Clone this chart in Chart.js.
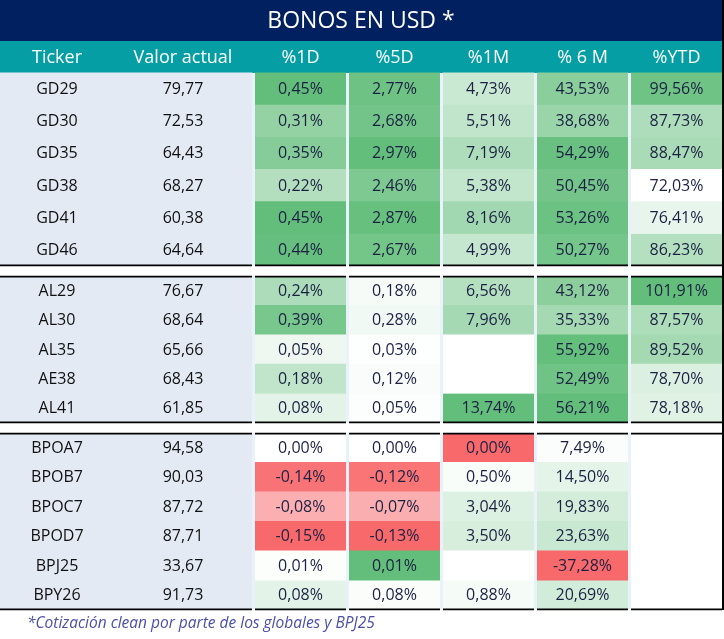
<!DOCTYPE html>
<html><head><meta charset="utf-8">
<script src="https://cdn.jsdelivr.net/npm/chart.js@4.4.1/dist/chart.umd.min.js"></script>
<style>html,body{margin:0;padding:0;background:#fff}#wrap{width:724px;height:639px;position:relative}</style>
</head><body><div id="wrap"><canvas id="c"></canvas></div>
<script>
// ---------------- data ----------------
const title = 'BONOS EN USD *';
const footnote = '*Cotización clean por parte de los globales y BPJ25';
const headers = ['Ticker', 'Valor actual', '%1D', '%5D', '%1M', '% 6 M', '%YTD'];
const tickers = ['GD29','GD30','GD35','GD38','GD41','GD46','AL29','AL30','AL35','AE38','AL41','BPOA7','BPOB7','BPOC7','BPOD7','BPJ25','BPY26'];
const sectionSizes = [6, 5, 6];
const valorActual = [79.77,72.53,64.43,68.27,60.38,64.64,76.67,68.64,65.66,68.43,61.85,94.58,90.03,87.72,87.71,33.67,91.73];
const pct1D  = [0.45,0.31,0.35,0.22,0.45,0.44,0.24,0.39,0.05,0.18,0.08,0.00,-0.14,-0.08,-0.15,0.01,0.08];
const pct5D  = [2.77,2.68,2.97,2.46,2.87,2.67,0.18,0.28,0.03,0.12,0.05,0.00,-0.12,-0.07,-0.13,0.01,0.08];
const pct1M  = [4.73,5.51,7.19,5.38,8.16,4.99,6.56,7.96,null,null,13.74,0.00,0.50,3.04,3.50,null,0.88];
const pct6M  = [43.53,38.68,54.29,50.45,53.26,50.27,43.12,35.33,55.92,52.49,56.21,7.49,14.50,19.83,23.63,-37.28,20.69];
const pctYTD = [99.56,87.73,88.47,72.03,76.41,86.23,101.91,87.57,89.52,78.70,78.18,null,null,null,null,null,null];
const pctColumns = [pct1D, pct5D, pct1M, pct6M, pctYTD];

// ---------------- styles / layout ----------------
const W = 724, H = 639;
const TITLE_H = 41, HEADER_H = 32, SEP_H = 10, LINE_W = 2;
const ROW_H = [32.17, 29.4, 29.5];
const TICKER_W = 114, VALOR_W = 138, GAP = 3, CELL_W = 91, RIGHT_LINE = 2;
const NAVY = '#002060', TEAL = '#049ea4', LEFT_BG = '#e4eaf4', GAP_BG = '#e9f1fa';
const GREEN = [99,190,123], RED = [248,105,107], WHITE = [255,255,255];
const colorScales = [{type:'div', mid:0},{type:'div', mid:0},{type:'div', mid:0},{type:'div', mid:6},{type:'seq'}];
const colorOverrides = [{row:'BPJ25', col:'%5D', color:GREEN}];
const FONT = '"Open Sans", "DejaVu Sans", sans-serif';

const rgb = c => `rgb(${Math.round(c[0])},${Math.round(c[1])},${Math.round(c[2])})`;
const mix = (a, b, t) => { t = Math.max(0, Math.min(1, t)); return rgb(a.map((v, i) => v + (b[i] - v) * t)); };
function cellColor(k, i) {
  const ov = colorOverrides.find(o => o.row === tickers[i] && o.col === headers[k + 2]);
  if (ov) return rgb(ov.color);
  const vals = pctColumns[k], v = vals[i];
  if (v == null) return '#ffffff';
  const nums = vals.filter(x => x != null);
  const mn = Math.min(...nums), mx = Math.max(...nums);
  const sc = colorScales[k];
  if (sc.type === 'seq') return mix(WHITE, GREEN, (v - mn) / (mx - mn));
  if (v <= mn) return rgb(RED);
  if (v >= sc.mid) return mix(WHITE, GREEN, (v - sc.mid) / (mx - sc.mid));
  return mix(WHITE, RED, (sc.mid - v) / (sc.mid - mn));
}

// rows geometry (in scale units)
const rowCenter = [], sections = [];
let cursor = TITLE_H + HEADER_H, idx = 0;
sectionSizes.forEach((n, s) => {
  const start = cursor, rows = [];
  for (let j = 0; j < n; j++) { rowCenter[idx] = cursor + ROW_H[s] / 2; rows.push(idx); cursor += ROW_H[s]; idx++; }
  sections.push({start, end: cursor, rows});
  cursor += SEP_H;
});
const TABLE_BOTTOM = sections[sections.length - 1].end;
const LEFT_W = TICKER_W + VALOR_W;
const colRange = k => { const x0 = LEFT_W + GAP + k * (CELL_W + GAP); return [x0, x0 + CELL_W]; };
const TABLE_RIGHT = colRange(4)[1];
const headerCenters = [TICKER_W / 2, TICKER_W + VALOR_W / 2, ...[0,1,2,3,4].map(k => (colRange(k)[0] + colRange(k)[1]) / 2)];

const fmt = v => v.toFixed(2).replace('.', ',');

// ---------------- datasets ----------------
const datasets = [];
sections.forEach((sec, s) => {
  for (let c = 0; c < 6; c++) {
    const rows = sec.rows, last = rows.length - 1;
    datasets.push({
      data: rows.map(i => ({x: c === 0 ? [0, LEFT_W] : colRange(c - 1), y: rowCenter[i]})),
      backgroundColor: rows.map(i => c === 0 ? LEFT_BG : cellColor(c - 1, i)),
      borderColor: '#000000',
      borderWidth: ctx => ({top: (s > 0 && ctx.dataIndex === 0) ? LINE_W : 0, bottom: ctx.dataIndex === last ? LINE_W : 0, left: 0, right: 0}),
      borderSkipped: false,
      inflateAmount: 0.4,
      barThickness: 'flex',
      categoryPercentage: 1,
      barPercentage: 1,
      stack: 'table'
    });
  }
});

const tablePlugin = {
  id: 'tableDecor',
  beforeDatasetsDraw(chart) {
    const {ctx, scales: {x, y}} = chart;
    const rect = (x0, y0, x1, y1, col) => {
      const px0 = x.getPixelForValue(x0), px1 = x.getPixelForValue(x1);
      const py0 = y.getPixelForValue(y0), py1 = y.getPixelForValue(y1);
      ctx.fillStyle = col; ctx.fillRect(px0, py0, px1 - px0, py1 - py0);
    };
    ctx.save();
    rect(0, 0, TABLE_RIGHT, TITLE_H, NAVY);
    rect(0, TITLE_H, TABLE_RIGHT, TITLE_H + HEADER_H, TEAL);
    sections.forEach(sec => { rect(0, sec.start, LEFT_W, sec.end, LEFT_BG); rect(LEFT_W, sec.start, TABLE_RIGHT, sec.end, GAP_BG); });
    ctx.restore();
  },
  afterDatasetsDraw(chart) {
    const {ctx, scales: {x, y}} = chart;
    ctx.save();
    // re-open the thin column gaps that the slight bar inflation covered
    sections.forEach(sec => {
      const py0 = y.getPixelForValue(sec.start), py1 = y.getPixelForValue(sec.end);
      [LEFT_W, ...[1,2,3,4].map(k => colRange(k)[0] - GAP)].forEach(gx => {
        const a = x.getPixelForValue(gx), b = x.getPixelForValue(gx + GAP);
        ctx.fillStyle = GAP_BG; ctx.fillRect(a, py0, b - a, py1 - py0);
      });
    });
    ctx.fillStyle = '#000';
    const rx0 = x.getPixelForValue(TABLE_RIGHT), rx1 = x.getPixelForValue(TABLE_RIGHT + RIGHT_LINE);
    ctx.fillRect(rx0, y.getPixelForValue(0), rx1 - rx0, y.getPixelForValue(TABLE_BOTTOM) - y.getPixelForValue(0));
    ctx.textAlign = 'center'; ctx.textBaseline = 'middle';
    // title
    ctx.fillStyle = '#ffffff';
    ctx.font = `23px ${FONT}`;
    ctx.fillText(title, x.getPixelForValue(TABLE_RIGHT / 2), y.getPixelForValue(TITLE_H / 2 + 1));
    // headers
    ctx.font = `18px ${FONT}`;
    headers.forEach((h, k) => ctx.fillText(h, x.getPixelForValue(headerCenters[k]), y.getPixelForValue(TITLE_H + HEADER_H / 2 + 0.5)));
    // body
    ctx.font = `16px ${FONT}`;
    tickers.forEach((t, i) => {
      const py = y.getPixelForValue(rowCenter[i]) + 0.5;
      ctx.fillStyle = '#111111';
      ctx.fillText(t, x.getPixelForValue(headerCenters[0]), py);
      ctx.fillText(fmt(valorActual[i]), x.getPixelForValue(headerCenters[1]), py);
      ctx.fillStyle = '#1c2143';
      pctColumns.forEach((col, k) => { if (col[i] != null) ctx.fillText(fmt(col[i]) + '%', x.getPixelForValue(headerCenters[k + 2]), py); });
    });
    // footnote
    ctx.textAlign = 'left';
    ctx.fillStyle = '#4b4fa8';
    ctx.font = `italic 15.5px ${FONT}`;
    ctx.fillText(footnote, x.getPixelForValue(27), y.getPixelForValue(TABLE_BOTTOM + 13.5));
    ctx.restore();
  }
};

new Chart(document.getElementById('c'), {
  type: 'bar',
  data: {datasets},
  options: {
    indexAxis: 'y',
    responsive: true,
    maintainAspectRatio: false,
    animation: false,
    events: [],
    layout: {padding: 0},
    plugins: {legend: {display: false}, tooltip: {enabled: false}, title: {display: false}},
    scales: {
      x: {type: 'linear', min: 0, max: W, display: false, stacked: false, offset: false},
      y: {type: 'linear', min: 0, max: H, reverse: true, display: false, offset: false}
    }
  },
  plugins: [tablePlugin]
});
</script>
</body></html>
